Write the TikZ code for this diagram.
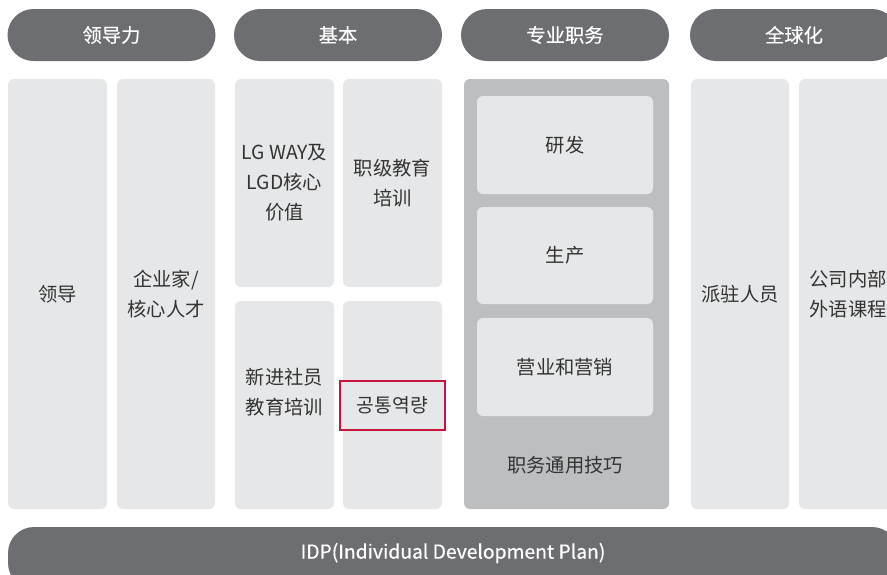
\documentclass[tikz,border=0pt]{standalone}
\usepackage{fontspec}
\setmainfont{Noto Sans CJK SC}
\newfontfamily\hdfont{Noto Sans CJK SC}[FakeBold=0.4]
\definecolor{hdr}{HTML}{6D6E71}
\definecolor{lite}{HTML}{E6E7E8}
\definecolor{mid}{HTML}{BCBEC0}
\definecolor{txt}{HTML}{333333}
\definecolor{lgred}{HTML}{C8143C}
\begin{document}
\begin{tikzpicture}[x=1pt,y=-1pt,
  pill/.style={fill=hdr, rounded corners=26pt, minimum width=208pt, minimum height=52pt, inner sep=0pt, text=white, font=\hdfont\fontsize{19.3}{30}\selectfont},
  col/.style={fill=lite, rounded corners=6pt, inner sep=0pt, text=txt, align=center, font=\fontsize{19.3}{30}\selectfont},
  lbl/.style={inner sep=0pt, text=txt, align=center, font=\fontsize{19.3}{30}\selectfont}]
\useasboundingbox (0,0) rectangle (887,574);
\clip (0,0) rectangle (887,574);
% headers
\node[pill] (h1) at (111.5,35) {领导力};
\node[pill] (h2) at (338,35) {基本};
\node[pill] (h3) at (565,35) {专业职务};
\node[pill] (h4) at (794,35) {全球化};
% leadership
\node[col, minimum width=99pt, minimum height=430pt] (c1) at (57.5,294) {领导};
\node[col, minimum width=98pt, minimum height=430pt] (c2) at (166,294) {企业家/\\核心人才};
% basic
\node[col, minimum width=99pt, minimum height=208pt] (b1) at (284.5,183) {LG WAY及\\LGD核心\\价值};
\node[col, minimum width=99pt, minimum height=208pt] (b2) at (392.5,183) {职级教育\\培训};
\node[col, minimum width=99pt, minimum height=208pt] (b3) at (284.5,405) {};
\node[lbl] (t3) at (284.5,392) {新进社员\\教育培训};
\node[col, minimum width=99pt, minimum height=208pt] (b4) at (392.5,405) {};
\node[col, rounded corners=0pt, draw=lgred, line width=2pt, minimum width=105pt, minimum height=49pt] (red) at (392.5,405.5) {공통역량};
% job panel
\node[fill=mid, rounded corners=6pt, minimum width=205pt, minimum height=430pt, inner sep=0pt] (p) at (566.5,294) {};
\node[col, minimum width=176pt, minimum height=98pt] (j1) at (565,145) {研发};
\node[col, minimum width=176pt, minimum height=97pt] (j2) at (565,255.5) {生产};
\node[col, minimum width=176pt, minimum height=98pt] (j3) at (565,367) {营业和营销};
\node[lbl] (j4) at (565,465) {职务通用技巧};
% global
\node[col, minimum width=98pt, minimum height=430pt] (g1) at (740,294) {派驻人员};
\node[col, minimum width=98pt, minimum height=430pt] (g2) at (848,294) {公司内部\\外语课程};
% IDP bar
\node[fill=hdr, rounded corners=26pt, minimum width=890pt, minimum height=62pt, inner sep=0pt] (idp) at (453,558) {};
\node[inner sep=0pt, text=white, font=\hdfont\fontsize{19.3}{30}\selectfont] (idpt) at (453,553) {IDP(Individual Development Plan)};
\end{tikzpicture}
\end{document}
